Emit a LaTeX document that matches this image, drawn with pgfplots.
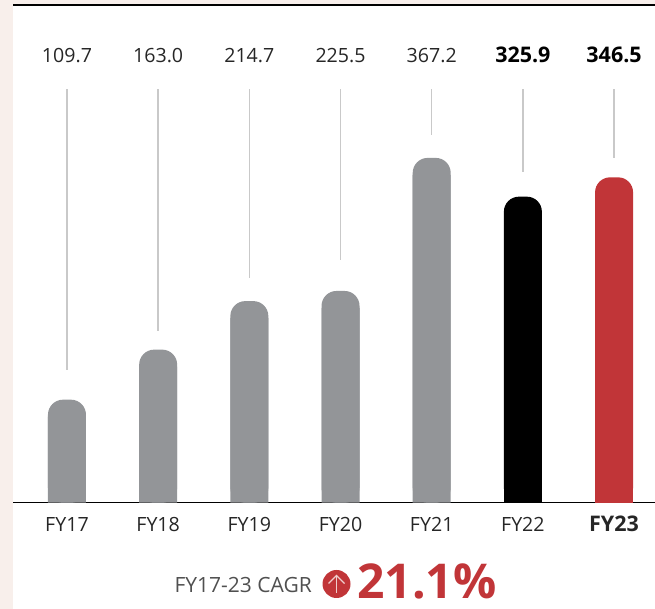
\documentclass[border=0pt]{standalone}
\usepackage{pgfplots}
\pgfplotsset{compat=1.18}
\usepackage{fontspec}
\setmainfont{Open Sans}
\definecolor{bgstrip}{HTML}{F8EFEB}
\definecolor{bargray}{HTML}{939598}
\definecolor{barred}{HTML}{C13538}
\definecolor{stem}{HTML}{C9C9C9}
\definecolor{txt}{HTML}{262626}
\definecolor{cagr}{HTML}{505050}
\begin{document}
\begin{tikzpicture}[x=1pt,y=1pt]
\path[use as bounding box] (0,0) rectangle (655,609);
\fill[bgstrip] (0,0) rectangle (13,609);
\fill[bgstrip] (0,604) rectangle (655,609);
\draw[black,line width=1.1pt] (13,604) -- (655,604);
\begin{axis}[
  at={(13pt,106.3pt)}, anchor=south west,
  scale only axis, width=642pt, height=497pt,
  xmin=-0.592, xmax=6.449, ymin=0, ymax=529.3,
  axis x line=bottom, axis y line=none,
  axis line style={black,line width=1.1pt,-},
  xtick={0,1,2,3,4,5,6},
  xticklabels={FY17,FY18,FY19,FY20,FY21,FY22,{\fontsize{21.5}{23}\selectfont\bfseries FY23}},
  x tick label style={font=\fontsize{19.6}{21}\selectfont,text=txt,anchor=base,yshift=-29pt},
  major tick length=0pt,
  clip=false
]
% leader lines (jump between segments)
\addplot[stem,line width=1.5pt,mark=none,unbounded coords=jump] coordinates {
 (0,141.6)(0,440.6)(0,nan)
 (1,183.2)(1,440.6)(1,nan)
 (2,239.6)(2,440.6)(2,nan)
 (3,258.8)(3,440.6)(3,nan)
 (4,391.9)(4,440.6)(4,nan)
 (5,352.5)(5,440.6)(5,nan)
 (6,367.4)(6,440.6)
};
% grey
\addplot[ybar,bar width=38pt,bar shift=0pt,fill=bargray,draw=none,rounded corners=15pt]
 coordinates {(0,109.7)(1,163.0)(2,214.7)(3,225.5)(4,367.2)};
\addplot[ybar,bar width=38pt,bar shift=0pt,fill=bargray,draw=none,y filter/.expression={y-18}]
 coordinates {(0,109.7)(1,163.0)(2,214.7)(3,225.5)(4,367.2)};
% black
\addplot[ybar,bar width=38pt,bar shift=0pt,fill=black,draw=none,rounded corners=15pt]
 coordinates {(5,325.9)};
\addplot[ybar,bar width=38pt,bar shift=0pt,fill=black,draw=none,y filter/.expression={y-18}]
 coordinates {(5,325.9)};
% red
\addplot[ybar,bar width=38pt,bar shift=0pt,fill=barred,draw=none,rounded corners=15pt]
 coordinates {(6,346.5)};
\addplot[ybar,bar width=38pt,bar shift=0pt,fill=barred,draw=none,y filter/.expression={y-18}]
 coordinates {(6,346.5)};
% value labels
\foreach \i/\v in {0/109.7,1/163.0,2/214.7,3/225.5,4/367.2}{
  \edef\temp{\noexpand\node[font=\noexpand\fontsize{19.6}{21}\noexpand\selectfont,text=txt] at (axis cs:\i,476.7) {\v};}
  \temp
}
\node[font=\fontsize{21.5}{23}\selectfont\bfseries,text=black] at (axis cs:5,476.7) {325.9};
\node[font=\fontsize{21.5}{23}\selectfont\bfseries,text=black] at (axis cs:6,476.7) {346.5};
\end{axis}
% CAGR line
\node[anchor=base east,font=\fontsize{21}{23}\selectfont,text=cagr,inner sep=0pt] at (312,16) {FY17-23 CAGR};
\fill[barred] (336.5,25) circle (14);
\draw[white!75!barred,line width=1.2pt] (336.5,16) -- (336.5,34);
\draw[white!75!barred,line width=1.2pt] (328.5,25.5) -- (336.5,33.5) -- (344.5,25.5);
\node[anchor=base west,font=\fontsize{48}{50}\selectfont\bfseries,text=barred,inner sep=0pt] at (357,10.5) {21.1\%};
\end{tikzpicture}
\end{document}
